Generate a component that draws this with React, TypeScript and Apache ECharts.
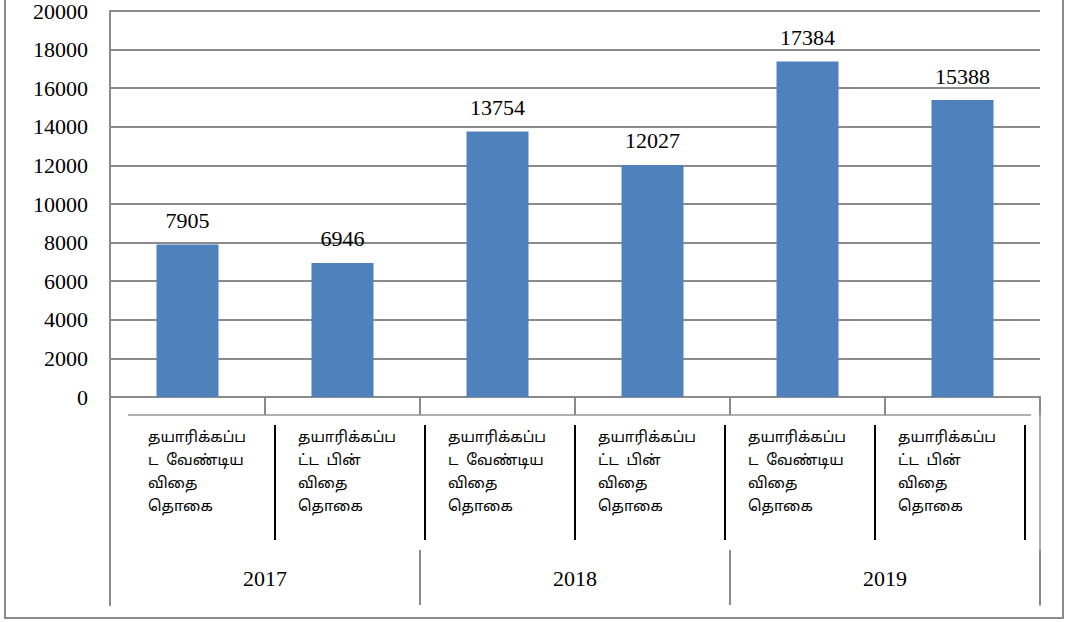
import React, { useEffect, useRef } from "react";
import * as echarts from "echarts";

const years = ["2017", "2018", "2019"];
const kinds = [
  "தயாரிக்கப்ப\nட  வேண்டிய\nவிதை\nதொகை",
  "தயாரிக்கப்ப\nட்ட  பின்\nவிதை\nதொகை",
];
const categories = [kinds[0], kinds[1], kinds[0], kinds[1], kinds[0], kinds[1]];
const values = [7905, 6946, 13754, 12027, 17384, 15388];
const yMin = 0;
const yMax = 20000;
const yInterval = 2000;

const GRAY = "#8a8a8a";
const SERIF = "'Liberation Serif', 'Times New Roman', serif";
const TAMIL = "'Noto Sans Tamil', 'Lohit Tamil', 'Noto Sans', sans-serif";

export default function App() {
  const ref = useRef<HTMLDivElement>(null);
  useEffect(() => {
    if (!ref.current) return;
    const chart = echarts.init(ref.current, null, { renderer: "svg" });
    const graphic: any[] = [];
    graphic.push({
      type: "rect",
      shape: { x: 5, y: -3, width: 1058, height: 621 },
      style: { fill: "none", stroke: GRAY, lineWidth: 2 },
      silent: true,
    });
    graphic.push({
      type: "line",
      shape: { x1: 110, y1: 397, x2: 110, y2: 606 },
      style: { stroke: GRAY, lineWidth: 2 },
    });
    graphic.push({
      type: "line",
      shape: { x1: 1040, y1: 397, x2: 1040, y2: 606 },
      style: { stroke: "#b0b0b0", lineWidth: 2 },
    });
    graphic.push({
      type: "line",
      shape: { x1: 128, y1: 415, x2: 1031, y2: 415 },
      style: { stroke: "#b0b0b0", lineWidth: 2 },
    });
    categories.forEach((c, i) => {
      graphic.push({
        type: "text",
        x: 148 + 150 * i,
        y: 427,
        style: {
          text: c,
          font: `15px ${TAMIL}`,
          fill: "#000",
          lineHeight: 23,
          align: "left",
          verticalAlign: "top",
        },
      });
      graphic.push({
        type: "line",
        shape: { x1: 275 + 150 * i, y1: 425, x2: 275 + 150 * i, y2: 540 },
        style: { stroke: "#000", lineWidth: 2 },
      });
    });

    chart.setOption({
      animation: false,
      grid: { left: 110, right: 28, top: 10, bottom: 225 },
      xAxis: [
        {
          type: "category",
          data: categories,
          axisLine: { show: true, lineStyle: { color: GRAY, width: 2 } },
          axisTick: { show: true, length: 18, lineStyle: { color: GRAY, width: 2 } },
          axisLabel: { show: false },
        },
        {
          type: "category",
          data: years,
          position: "bottom",
          offset: 153,
          axisLine: { show: false },
          axisTick: { show: true, length: 55, lineStyle: { color: GRAY, width: 2 } },
          axisLabel: { show: true, margin: 17, color: "#000", fontSize: 22, fontFamily: SERIF },
        },
      ],
      yAxis: {
        type: "value",
        min: yMin,
        max: yMax,
        interval: yInterval,
        axisLine: { show: true, lineStyle: { color: GRAY, width: 2 } },
        axisTick: { show: false },
        splitLine: { show: true, lineStyle: { color: GRAY, width: 2 } },
        axisLabel: {
          margin: 22,
          color: "#000",
          fontSize: 22,
          fontFamily: SERIF,
          formatter: (v: number) => String(v),
        },
      },
      series: [
        {
          type: "bar",
          data: values,
          barWidth: 62,
          itemStyle: { color: "#4f81bd" },
          label: {
            show: true,
            position: "top",
            distance: 13,
            color: "#000",
            fontSize: 22,
            fontFamily: SERIF,
          },
        },
      ],
      graphic,
    });
    return () => chart.dispose();
  }, []);
  return (
    <div
      ref={ref}
      style={{ position: "absolute", left: 0, top: 0, width: 1068, height: 622 }}
    />
  );
}
